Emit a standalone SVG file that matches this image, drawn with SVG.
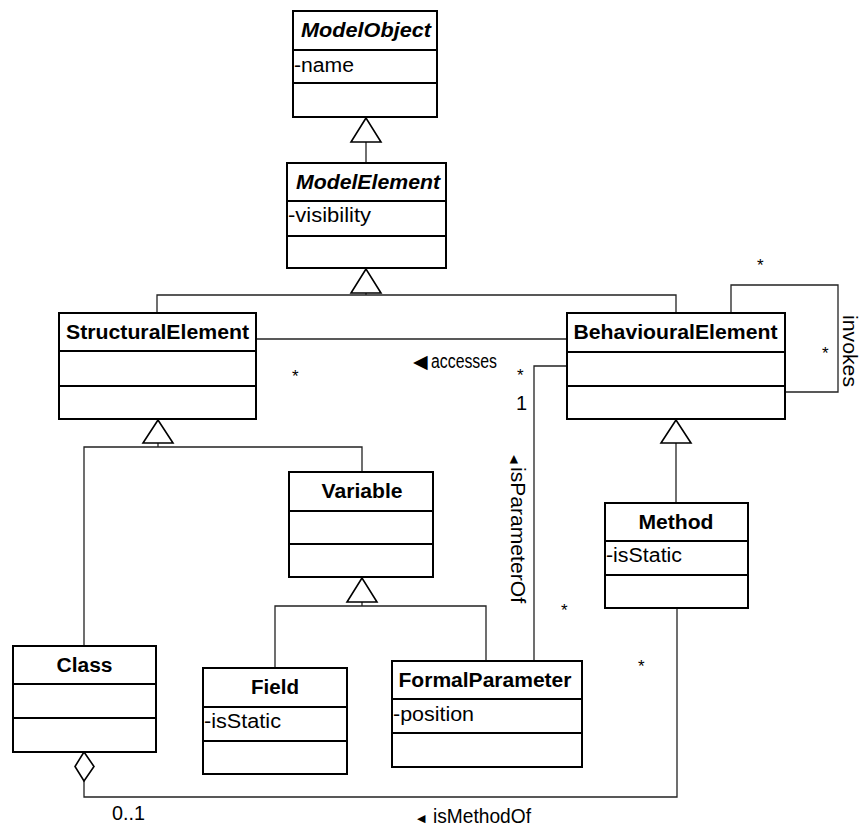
<svg xmlns="http://www.w3.org/2000/svg" width="861" height="828" viewBox="0 0 861 828">
  <style>
    .box { fill: #fff; stroke: #000; stroke-width: 2; }
    .div { stroke: #000; stroke-width: 2; }
    .hdr { font-family: "Liberation Sans", Arial, sans-serif; font-size: 20px; font-weight: bold; text-anchor: middle; fill: #000; }
    .abs { font-style: italic; }
    .attr { font-family: "Liberation Sans", Arial, sans-serif; font-size: 20px; fill: #000; }
    .lbl { font-family: "Liberation Sans", Arial, sans-serif; font-size: 20px; fill: #000; }
    .star { font-family: "Liberation Sans", Arial, sans-serif; font-size: 17px; fill: #000; }
    .arr { font-family: "DejaVu Sans", sans-serif; fill: #000; }
    .conn { fill: none; stroke: #222; stroke-width: 1.3; }
    .gen { fill: #fff; stroke: #000; stroke-width: 1.6; }
  </style>

  <!-- connectors -->
  <g id="connectors">
    <!-- ModelObject <- ModelElement -->
    <line class="conn" x1="366" y1="142" x2="366" y2="163"/>
    <polygon class="gen" points="366,118 351,142 381,142"/>
    <!-- ModelElement <- StructuralElement / BehaviouralElement -->
    <polyline class="conn" points="157,313 157,295 676,295 676,313"/>
    <line class="conn" x1="366" y1="293" x2="366" y2="295"/>
    <polygon class="gen" points="366,269 351,293 381,293"/>
    <!-- accesses -->
    <line class="conn" x1="256" y1="339" x2="567" y2="339"/>
    <!-- invokes (self association) -->
    <polyline class="conn" points="731,313 731,285 838,285 838,392 785,392"/>
    <!-- isParameterOf -->
    <polyline class="conn" points="567,366 534,366 534,661"/>
    <!-- StructuralElement <- Class / Variable -->
    <polyline class="conn" points="84,646 84,447 362,447 362,472"/>
    <line class="conn" x1="158" y1="443" x2="158" y2="447"/>
    <polygon class="gen" points="158,420 143,443 173,443"/>
    <!-- BehaviouralElement <- Method -->
    <line class="conn" x1="676" y1="443" x2="676" y2="503"/>
    <polygon class="gen" points="676,420 661,443 691,443"/>
    <!-- Variable <- Field / FormalParameter -->
    <polyline class="conn" points="275,668 275,606 486,606 486,661"/>
    <line class="conn" x1="362" y1="602" x2="362" y2="606"/>
    <polygon class="gen" points="362,578 347,602 377,602"/>
    <!-- isMethodOf (aggregation) -->
    <polyline class="conn" points="84,781 84,797 677,797 677,608"/>
    <polygon class="gen" points="84,752 94,766.5 84,781 75,766.5"/>

    <!-- multiplicities and role names -->
    <text class="star" x="292" y="382">*</text>
    <text class="arr" x="413" y="368" font-size="19">◀</text>
    <text class="lbl" x="431" y="368" textLength="66" lengthAdjust="spacingAndGlyphs">accesses</text>
    <text class="star" x="757" y="271">*</text>
    <text class="star" x="822" y="359">*</text>
    <text class="lbl" x="843" y="315" transform="rotate(90 843 315)" textLength="72" lengthAdjust="spacingAndGlyphs">invokes</text>
    <text class="star" x="517" y="381">*</text>
    <text class="lbl" x="516" y="410">1</text>
    <g transform="translate(511,455) rotate(90)">
      <text class="arr" x="0" y="0" font-size="11">◀</text>
      <text class="lbl" x="12" y="0" textLength="136" lengthAdjust="spacingAndGlyphs">isParameterOf</text>
    </g>
    <text class="star" x="561" y="616">*</text>
    <text class="star" x="638" y="672">*</text>
    <text class="lbl" x="112" y="820" textLength="33" lengthAdjust="spacingAndGlyphs">0..1</text>
    <text class="arr" x="417" y="822" font-size="11">◀</text>
    <text class="lbl" x="433" y="823" textLength="98" lengthAdjust="spacingAndGlyphs">isMethodOf</text>
  </g>

  <!-- classes -->
  <g id="ModelObject">
    <rect class="box" x="293" y="11" width="144" height="106"/>
    <line class="div" x1="293" y1="50" x2="437" y2="50"/>
    <line class="div" x1="293" y1="83" x2="437" y2="83"/>
    <text class="hdr abs" x="366" y="37" textLength="130" lengthAdjust="spacingAndGlyphs">ModelObject</text>
    <text class="attr" x="294" y="72" textLength="60" lengthAdjust="spacingAndGlyphs">-name</text>
  </g>

  <g id="ModelElement">
    <rect class="box" x="287" y="163" width="159" height="105"/>
    <line class="div" x1="287" y1="201" x2="446" y2="201"/>
    <line class="div" x1="287" y1="236" x2="446" y2="236"/>
    <text class="hdr abs" x="368" y="189" textLength="144" lengthAdjust="spacingAndGlyphs">ModelElement</text>
    <text class="attr" x="288" y="222" textLength="83" lengthAdjust="spacingAndGlyphs">-visibility</text>
  </g>

  <g id="StructuralElement">
    <rect class="box" x="59" y="313" width="197" height="106"/>
    <line class="div" x1="59" y1="351" x2="256" y2="351"/>
    <line class="div" x1="59" y1="386" x2="256" y2="386"/>
    <text class="hdr" x="157.5" y="339" textLength="183" lengthAdjust="spacingAndGlyphs">StructuralElement</text>
  </g>

  <g id="BehaviouralElement">
    <rect class="box" x="567" y="313" width="218" height="106"/>
    <line class="div" x1="567" y1="352" x2="785" y2="352"/>
    <line class="div" x1="567" y1="386" x2="785" y2="386"/>
    <text class="hdr" x="675.5" y="339" textLength="204" lengthAdjust="spacingAndGlyphs">BehaviouralElement</text>
  </g>

  <g id="Variable">
    <rect class="box" x="289" y="472" width="144" height="105"/>
    <line class="div" x1="289" y1="511" x2="433" y2="511"/>
    <line class="div" x1="289" y1="544" x2="433" y2="544"/>
    <text class="hdr" x="362" y="498" textLength="81" lengthAdjust="spacingAndGlyphs">Variable</text>
  </g>

  <g id="Method">
    <rect class="box" x="605" y="503" width="143" height="105"/>
    <line class="div" x1="605" y1="541" x2="748" y2="541"/>
    <line class="div" x1="605" y1="575" x2="748" y2="575"/>
    <text class="hdr" x="676" y="529" textLength="75" lengthAdjust="spacingAndGlyphs">Method</text>
    <text class="attr" x="606" y="562" textLength="76" lengthAdjust="spacingAndGlyphs">-isStatic</text>
  </g>

  <g id="Class">
    <rect class="box" x="13" y="646" width="143" height="106"/>
    <line class="div" x1="13" y1="684" x2="156" y2="684"/>
    <line class="div" x1="13" y1="718" x2="156" y2="718"/>
    <text class="hdr" x="84.5" y="672" textLength="56" lengthAdjust="spacingAndGlyphs">Class</text>
  </g>

  <g id="Field">
    <rect class="box" x="203" y="668" width="144" height="106"/>
    <line class="div" x1="203" y1="707" x2="347" y2="707"/>
    <line class="div" x1="203" y1="741" x2="347" y2="741"/>
    <text class="hdr" x="275" y="694" textLength="48" lengthAdjust="spacingAndGlyphs">Field</text>
    <text class="attr" x="204" y="728" textLength="77" lengthAdjust="spacingAndGlyphs">-isStatic</text>
  </g>

  <g id="FormalParameter">
    <rect class="box" x="392" y="661" width="190" height="106"/>
    <line class="div" x1="392" y1="699" x2="582" y2="699"/>
    <line class="div" x1="392" y1="733" x2="582" y2="733"/>
    <text class="hdr" x="485" y="687" textLength="173" lengthAdjust="spacingAndGlyphs">FormalParameter</text>
    <text class="attr" x="393" y="721" textLength="81" lengthAdjust="spacingAndGlyphs">-position</text>
  </g>
</svg>
